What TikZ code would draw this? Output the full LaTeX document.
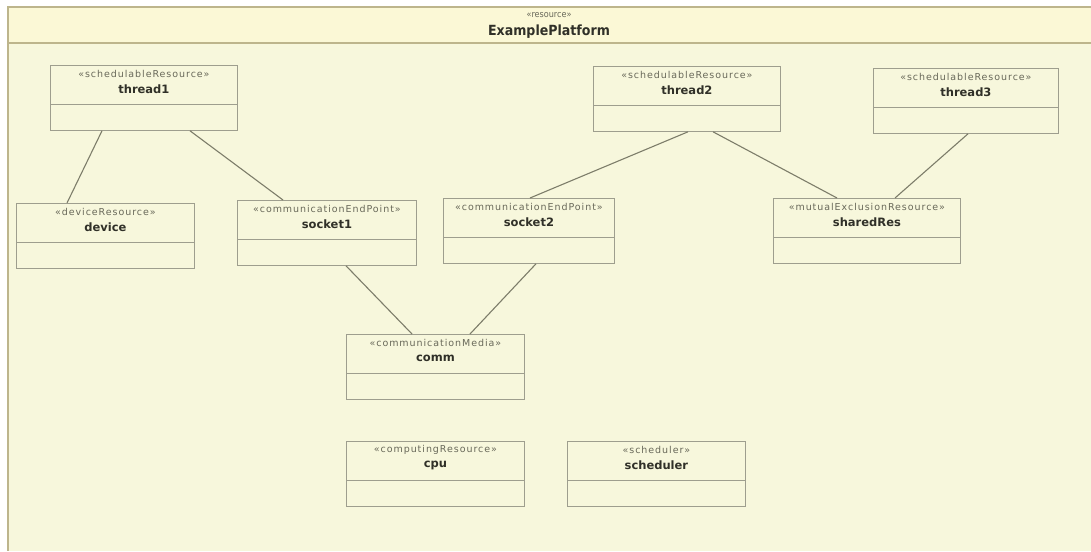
\documentclass[tikz,border=0pt]{standalone}
\usepackage{fontspec}
\setmainfont{DejaVu Sans}
\newfontfamily\condfont{DejaVu Sans Condensed}
\newfontfamily\stereofont[LetterSpace=10]{DejaVu Sans}
\usetikzlibrary{calc}

\definecolor{pagebg}{RGB}{255,255,255}
\definecolor{bodybg}{RGB}{247,247,220}
\definecolor{headbg}{RGB}{251,248,214}
\definecolor{frameline}{RGB}{189,181,140}
\definecolor{boxline}{RGB}{158,158,142}
\definecolor{linkline}{RGB}{125,125,106}
\definecolor{stereotxt}{RGB}{105,105,90}
\definecolor{nametxt}{RGB}{48,48,40}

\tikzset{
  umlbox/.style={draw=boxline, line width=0.8pt, rectangle, anchor=north west,
    minimum height=65pt, inner sep=0pt},
  stereolabel/.style={text=stereotxt, font=\stereofont\fontsize{9.5}{10}\selectfont, inner sep=0pt},
  namelabel/.style={text=nametxt, font=\fontsize{11.5}{12}\selectfont\bfseries, inner sep=0pt},
  divider/.style={draw=boxline, line width=0.8pt},
  link/.style={draw=linkline, line width=1.1pt},
}

% class box: #1 name, #2 x, #3 y, #4 width, #5 stereotype, #6 title
\newcommand\umlclass[6]{%
  \node[umlbox, minimum width=#4pt] (#1) at (#2,#3) {};
  \node[stereolabel] (#1-st) at ([yshift=-9pt]#1.north) {«#5»};
  \node[namelabel] (#1-nm) at ([yshift=-24pt]#1.north) {#6};
  \draw[divider] ([yshift=-39pt]#1.north west) -- ([yshift=-39pt]#1.north east);
}

\begin{document}
\begin{tikzpicture}[x=1pt, y=-1pt]
  \useasboundingbox (0,0) rectangle (1091,551);
  \fill[pagebg] (0,0) rectangle (1091,551);

  % package frame with its header band
  \fill[bodybg] (8,7) rectangle (1091,551);
  \fill[headbg] (8,7) rectangle (1091,43);
  \draw[frameline, line width=1.6pt] (1091,7) -- (8,7) -- (8,551);
  \draw[frameline, line width=1.6pt] (8,43) -- (1091,43);
  \node[text=stereotxt, font=\condfont\fontsize{9}{10}\selectfont, inner sep=0pt] (pkg-st) at (549,15) {«resource»};
  \node[text=nametxt, font=\condfont\fontsize{14}{15}\selectfont\bfseries, inner sep=0pt] (pkg-nm) at (549,32) {ExamplePlatform};

  % classes
  \umlclass{thread1}{50}{65}{187}{schedulableResource}{thread1}
  \umlclass{thread2}{593}{66}{187}{schedulableResource}{thread2}
  \umlclass{thread3}{873}{68}{185}{schedulableResource}{thread3}
  \umlclass{device}{16}{203}{178}{deviceResource}{device}
  \umlclass{socket1}{237}{200}{179}{communicationEndPoint}{socket1}
  \umlclass{socket2}{443}{198}{171}{communicationEndPoint}{socket2}
  \umlclass{sharedRes}{773}{198}{187}{mutualExclusionResource}{sharedRes}
  \umlclass{comm}{346}{334}{178}{communicationMedia}{comm}
  \umlclass{cpu}{346}{441}{178}{computingResource}{cpu}
  \umlclass{scheduler}{567}{441}{178}{scheduler}{scheduler}

  % associations
  \draw[link] ([xshift=52pt]thread1.south west) -- ([xshift=51pt]device.north west);
  \draw[link] ([xshift=140pt]thread1.south west) -- ([xshift=46pt]socket1.north west);
  \draw[link] ([xshift=95pt]thread2.south west) -- ([xshift=87pt]socket2.north west);
  \draw[link] ([xshift=120pt]thread2.south west) -- ([xshift=64pt]sharedRes.north west);
  \draw[link] ([xshift=95pt]thread3.south west) -- ([xshift=122pt]sharedRes.north west);
  \draw[link] ([xshift=109pt]socket1.south west) -- ([xshift=66pt]comm.north west);
  \draw[link] ([xshift=93pt]socket2.south west) -- ([xshift=124pt]comm.north west);
\end{tikzpicture}
\end{document}
